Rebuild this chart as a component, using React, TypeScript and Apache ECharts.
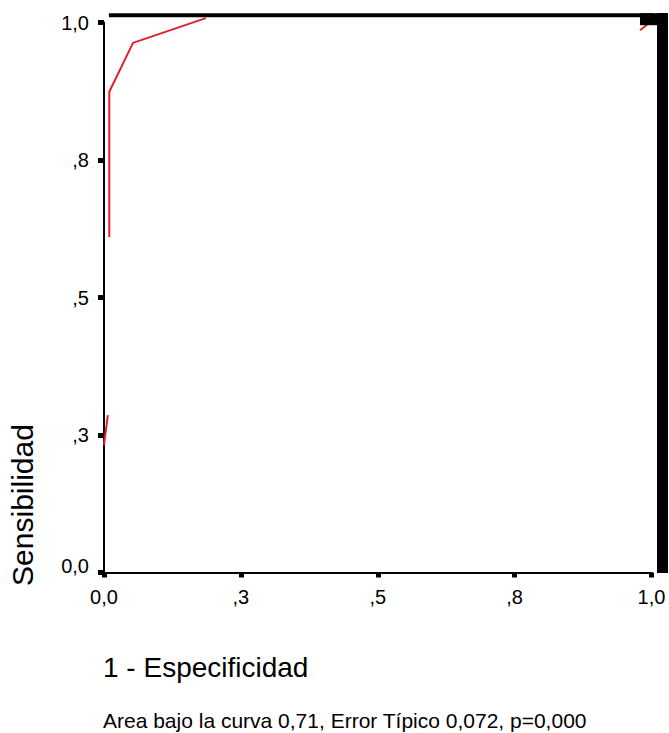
import React, { useEffect, useRef } from "react";
import * as echarts from "echarts";

const tickLabels = ["0,0", ",3", ",5", ",8", "1,0"];
const rocX = [0.0097, 0.0097, 0.053, 0.186];
const rocY = [0.61, 0.874, 0.963, 1.008];
const rocLowX = [0.0, 0.007];
const rocLowY = [0.232, 0.286];
const rocEndX = [0.979, 0.992];
const rocEndY = [0.986, 0.996];
const frameTopX = [0.009, 1.01];
const frameTopY = [1.013, 1.013];
const cornerX = [0.979, 1.015];
const cornerY = [1.006, 1.006];

const yTitle = "Sensibilidad";
const xTitle = "1 - Especificidad";
const caption = "Area bajo la curva 0,71, Error Típico 0,072, p=0,000";

const FONT = "'Liberation Sans', Arial, Helvetica, sans-serif";

function pairs(xs: number[], ys: number[]) {
  return xs.map((x, i) => [x, ys[i]]);
}

export default function App() {
  const ref = useRef<HTMLDivElement>(null);
  useEffect(() => {
    if (!ref.current) return;
    const chart = echarts.init(ref.current, null, { renderer: "svg" });
    const xl = (v: number) => tickLabels[Math.round(v / 0.25)] ?? "";
    const yl = (v: number) => {
      const i = Math.round(v / 0.25);
      return i === 0 ? `{z|${tickLabels[i]}}` : tickLabels[i] ?? "";
    };
    const redLine = { color: "#e3202a", width: 2 };
    chart.setOption({
      animation: false,
      backgroundColor: "#ffffff",
      grid: { left: 104, right: 17.5, top: 22.5, bottom: 160.5 },
      xAxis: {
        type: "value",
        min: 0,
        max: 1,
        interval: 0.25,
        axisLine: { show: true, lineStyle: { color: "#000", width: 2 } },
        axisTick: { show: true, length: 5, lineStyle: { color: "#000", width: 5 } },
        splitLine: { show: false },
        axisLabel: { formatter: xl, color: "#000", fontSize: 20, fontFamily: FONT, margin: 14 },
      },
      yAxis: {
        type: "value",
        min: 0,
        max: 1,
        interval: 0.25,
        axisLine: { show: true, lineStyle: { color: "#000", width: 2 } },
        axisTick: { show: true, length: 6, lineStyle: { color: "#000", width: 5 } },
        splitLine: { show: false },
        axisLabel: {
          formatter: yl,
          color: "#000",
          fontSize: 20,
          fontFamily: FONT,
          margin: 15,
          rich: { z: { fontSize: 20, fontFamily: FONT, color: "#000", padding: [0, 0, 14, 0] } },
        },
      },
      series: [
        { type: "line", data: pairs(rocX, rocY), symbol: "none", lineStyle: redLine, z: 2, clip: false },
        { type: "line", data: pairs(rocLowX, rocLowY), symbol: "none", lineStyle: redLine, z: 2, clip: false },
        { type: "line", data: pairs(rocEndX, rocEndY), symbol: "none", lineStyle: redLine, z: 2 },
        { type: "line", data: pairs(frameTopX, frameTopY), symbol: "none", clip: false, lineStyle: { color: "#000", width: 4, cap: "butt" }, z: 3 },
        { type: "line", data: pairs(cornerX, cornerY), symbol: "none", clip: false, lineStyle: { color: "#000", width: 12, cap: "butt" }, z: 3 },
      ],
      graphic: [
        {
          type: "rect",
          shape: { x: 657, y: 13, width: 11, height: 560 },
          style: { fill: "#000" },
          z: 10,
        },
        {
          type: "text",
          x: 22,
          y: 505,
          rotation: Math.PI / 2,
          style: { text: yTitle, fill: "#000", fontSize: 30, fontFamily: FONT, textAlign: "center", textVerticalAlign: "middle" },
        },
        {
          type: "text",
          x: 103,
          y: 667,
          style: { text: xTitle, fill: "#000", fontSize: 28, fontFamily: FONT, textAlign: "left", textVerticalAlign: "middle" },
        },
        {
          type: "text",
          x: 103,
          y: 720,
          style: { text: caption, fill: "#000", fontSize: 21, fontFamily: FONT, textAlign: "left", textVerticalAlign: "middle" },
        },
      ],
    });
    return () => chart.dispose();
  }, []);
  return <div ref={ref} style={{ width: 669, height: 733, position: "absolute", left: 0, top: 0 }} />;
}
